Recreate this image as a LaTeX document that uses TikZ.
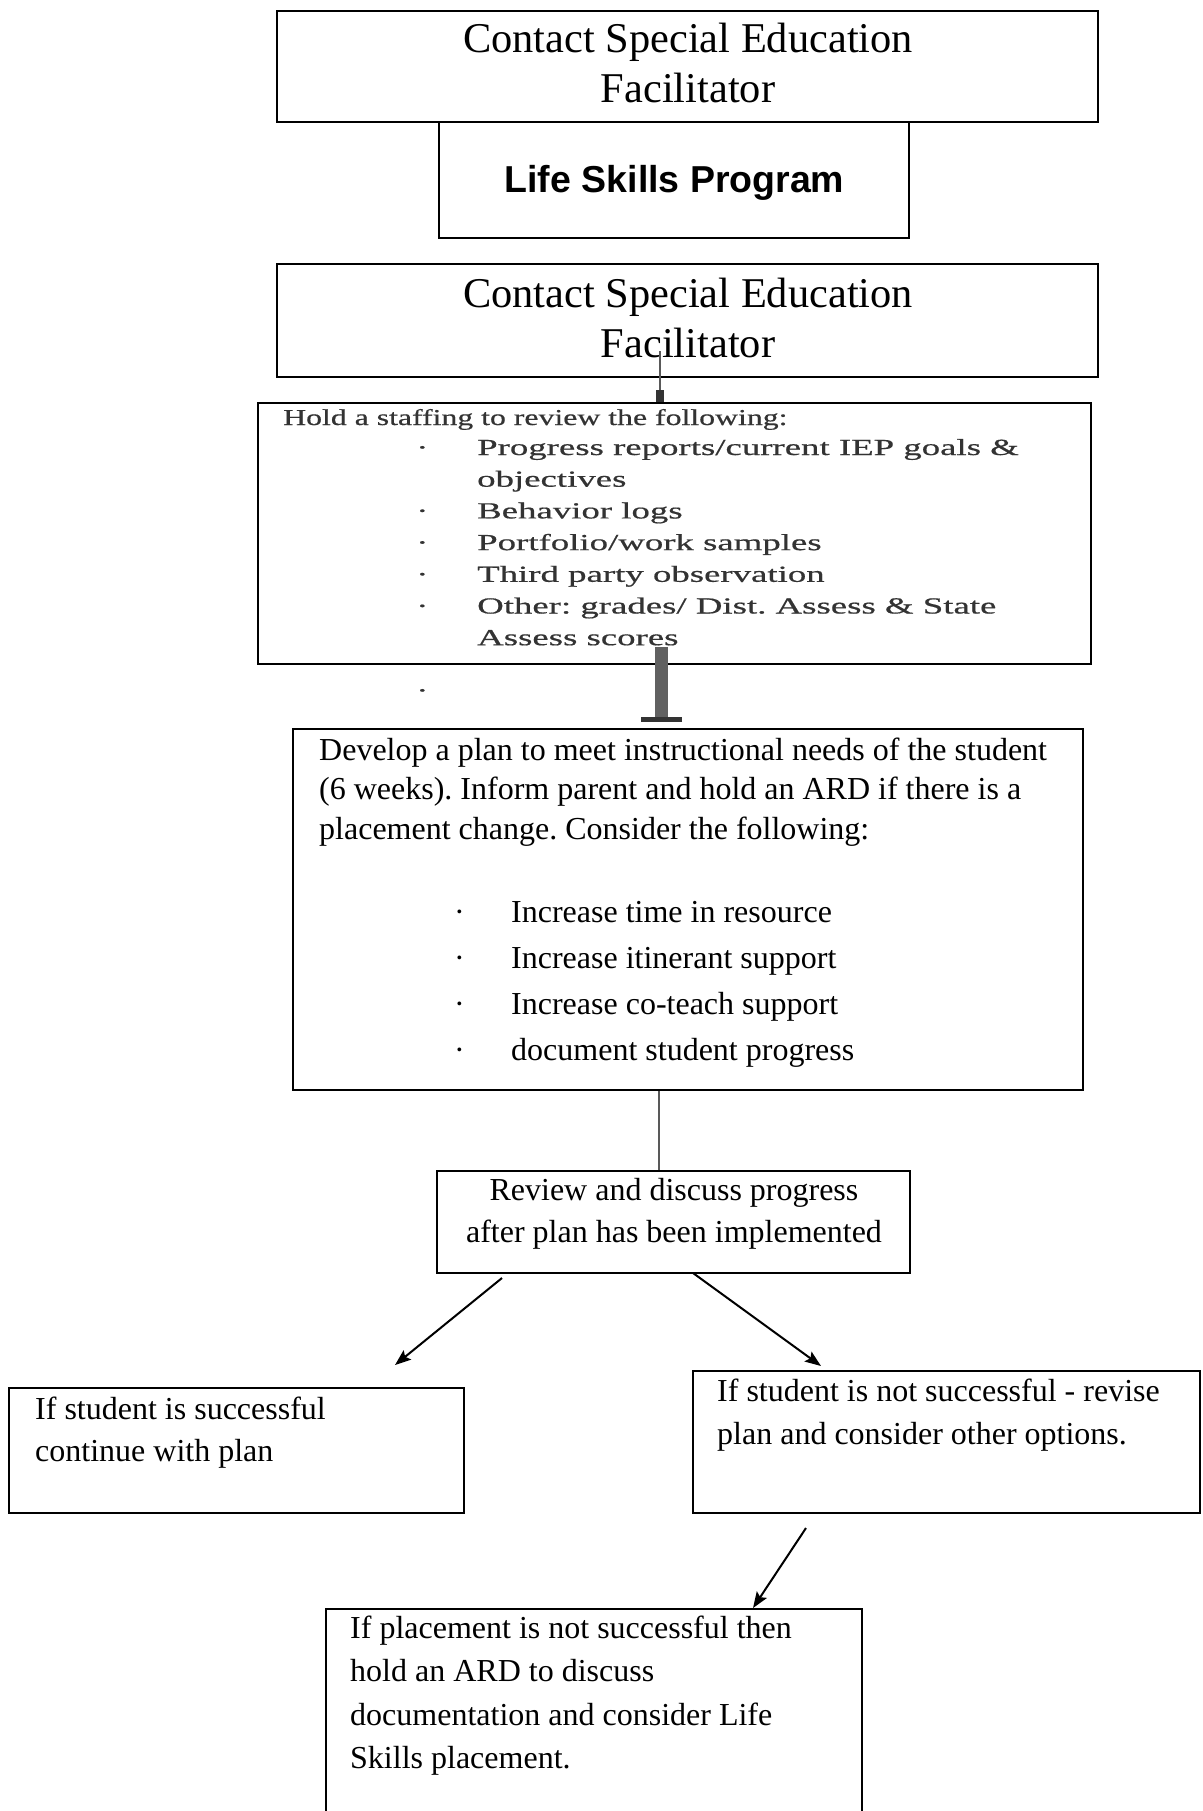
\documentclass[tikz,border=0pt]{standalone}
\usepackage{fontspec}
\setmainfont{Liberation Serif}
\newfontfamily\lifefont{Liberation Sans}
\newfontfamily\wideA[FakeStretch=1.4,FakeBold=0.6]{Liberation Serif}
\newfontfamily\wideB[FakeStretch=1.6,FakeBold=0.6]{Liberation Serif}
\usetikzlibrary{arrows.meta}
\frenchspacing

\begin{document}
\begin{tikzpicture}[x=1pt,y=-1pt,
    every node/.style={inner sep=0pt},
    box/.style={draw=black,line width=2pt,rectangle,fill=white},
    txt/.style={anchor=base west},
    ctr/.style={anchor=base},
    link/.style={draw=black!65,line width=2pt},
    thickbar/.style={draw=black!62,line width=13pt,-{Bar[width=41pt,line width=5pt,color=black!80]},shorten >=6pt},
    arr/.style={draw=black,line width=2pt,-{Stealth[length=16pt,width=12pt,inset=3pt]}}]
        \useasboundingbox[fill=white] (0,0) rectangle (1202,1811);

        \node[box,minimum width=821pt,minimum height=111pt] (contactA) at (687.5,67) {};
        \node[box,minimum width=470pt,minimum height=116pt] (life) at (674,180.5) {};
        \node[box,minimum width=821pt,minimum height=113pt] (contactB) at (687.5,320.5) {};
        \node[box,minimum width=833pt,minimum height=261pt] (hold) at (674.5,533.5) {};
        \node[box,minimum width=790pt,minimum height=361pt] (plan) at (688,909.5) {};
        \node[box,minimum width=473pt,minimum height=102pt] (review) at (673.5,1222) {};
        \node[box,minimum width=455pt,minimum height=125pt] (success) at (236.5,1450.5) {};
        \node[box,minimum width=507pt,minimum height=142pt] (fail) at (946.5,1442) {};
        \node[box,minimum width=536pt,minimum height=240pt] (ard) at (594,1729) {};

        \node[ctr,font=\fontsize{42.4}{50}\selectfont] (contactAtxt) at (688,53) {\parbox[t]{800pt}{\centering Contact Special Education\\Facilitator}};
        \node[ctr,font=\lifefont\bfseries\fontsize{37.5}{45}\selectfont] (lifetxt) at (674.5,193) {Life Skills Program};
        \node[ctr,font=\fontsize{42.4}{50}\selectfont] (contactBtxt) at (688,307) {\parbox[t]{800pt}{\centering Contact Special Education\\Facilitator}};

        \node[txt,text=black!80,font=\wideA\fontsize{22.7}{31.7}\selectfont] (holdhead) at (283,425) {Hold a staffing to review the following:};
        \node[txt,text=black!80,font=\wideB\fontsize{23}{31.7}\selectfont] (holddots) at (416,455) {\parbox[t]{30pt}{·\\\mbox{}\\·\\·\\·\\·}};
        \node[txt,text=black!80,font=\wideB\fontsize{23}{31.7}\selectfont] (holditems) at (477,455) {\parbox[t]{620pt}{Progress reports/current IEP goals \&\\objectives\\Behavior logs\\Portfolio/work samples\\Third party observation\\Other: grades/ Dist. Assess \& State\\Assess scores}};
        \node[txt,text=black!80,font=\wideB\fontsize{23}{31.7}\selectfont] (straydot) at (416,698) {·};

        \node[txt,font=\fontsize{32}{39.5}\selectfont] (plantxt) at (319,760) {\parbox[t]{760pt}{Develop a plan to meet instructional needs of the student\\(6 weeks). Inform parent and hold an ARD if there is a\\placement change. Consider the following:}};
        \node[txt,font=\fontsize{32}{46}\selectfont] (plandots) at (454,922) {\parbox[t]{20pt}{·\\·\\·\\·}};
        \node[txt,font=\fontsize{32}{46}\selectfont] (planitems) at (511,922) {\parbox[t]{500pt}{Increase time in resource\\Increase itinerant support\\Increase co-teach support\\document student progress}};

        \node[ctr,font=\fontsize{32}{42.5}\selectfont] (reviewtxt) at (674,1200) {\parbox[t]{460pt}{\centering Review and discuss progress\\after plan has been implemented}};
        \node[txt,font=\fontsize{32}{42}\selectfont] (successtxt) at (35,1419) {\parbox[t]{400pt}{If student is successful\\continue with plan}};
        \node[txt,font=\fontsize{32}{43}\selectfont] (failtxt) at (717,1401) {\parbox[t]{470pt}{If student is not successful - revise\\plan and consider other options.}};
        \node[txt,font=\fontsize{32}{43.5}\selectfont] (ardtxt) at (350,1638) {\parbox[t]{500pt}{If placement is not successful then\\hold an ARD to discuss\\documentation and consider Life\\Skills placement.}};

        \coordinate (spine) at (659,0);
        \coordinate (contactBtail) at (660,351);
        \coordinate (holdtail) at (661.5,647);
        \coordinate (leftfrom) at (502,1278);
        \coordinate (leftto) at (395,1365);
        \coordinate (rightfrom) at (693,1273);
        \coordinate (rightto) at (821,1366);
        \coordinate (lastfrom) at (806,1528);
        \coordinate (lastto) at (753,1608);

        \path (contactBtail) edge[link,-{Rectangle[length=12pt,width=8pt,color=black!80]}] (contactBtail |- hold.north);
        \path (holdtail) edge[thickbar] (holdtail |- plan.north);
        \path (plan.south -| spine) edge[link] (review.north -| spine);
        \path (leftfrom) edge[arr] (leftto);
        \path (rightfrom) edge[arr] (rightto);
        \path (lastfrom) edge[arr] (lastto);
    \end{tikzpicture}
\end{document}
